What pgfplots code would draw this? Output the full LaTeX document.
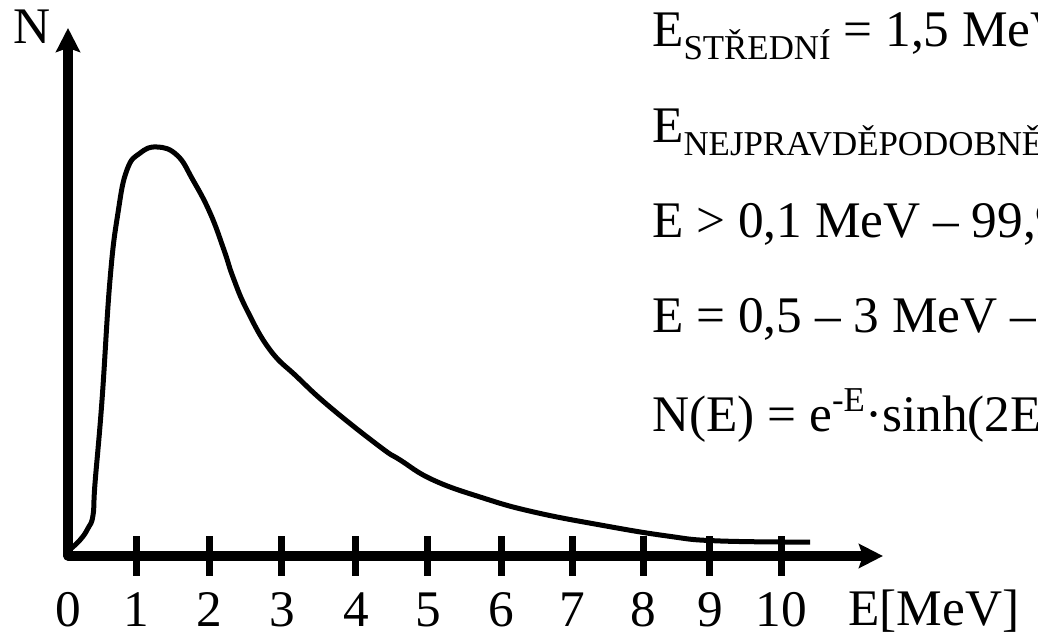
\documentclass[border=0pt]{standalone}
\usepackage{pgfplots}
\pgfplotsset{compat=1.18}
\usepackage{pgfplotstable}
\usepackage{fontspec}
\setmainfont{Liberation Serif}
\usetikzlibrary{arrows.meta}

% font sizes used throughout
\newcommand\bigfont{\fontsize{51.5}{60}\selectfont}
\newcommand\smallfont{\fontsize{35}{35}\selectfont}
\newcommand\lowtext[1]{\raisebox{-12.5bp}{\smallfont #1}}
\newcommand\hightext[1]{\raisebox{20bp}{\smallfont #1}}

% fission neutron spectrum, relative intensity vs. energy in MeV
\pgfplotstableread{
E       N
0.000   0.012
0.168   0.039
0.281   0.068
0.351   0.100
0.379   0.178
0.477   0.381
0.589   0.675
0.701   0.839
0.827   0.944
1.010   0.985
1.248   1.000
1.529   0.980
1.753   0.919
1.992   0.839
2.188   0.748
2.314   0.682
2.511   0.601
2.833   0.504
3.212   0.438
3.675   0.364
4.376   0.267
4.656   0.235
5.119   0.186
5.820   0.142
6.522   0.108
7.461   0.076
8.401   0.049
9.102   0.037
10.407  0.034
}\spectrum

\begin{document}
\begin{tikzpicture}
\useasboundingbox (0,0) rectangle (1038bp,633bp);
\clip (0,0) rectangle (1038bp,633bp);
\begin{axis}[
  at={(68bp,77bp)}, anchor=origin,
  x=71.3bp, y=409bp,
  xmin=0, xmax=11.43, ymin=0, ymax=1.291,
  axis lines=left,
  clip=false,
  axis line style={line width=9bp, line cap=round,
    -{Stealth[length=24bp, width=24bp, inset=4bp]}},
  xtick={0.954,1.978,3.001,4.039,5.049,6.073,7.069,8.065,9.004,10.0},
  xticklabels={1,2,3,4,5,6,7,8,9,10},
  extra x ticks={0},
  extra x tick labels={0},
  extra x tick style={tick style={draw=none}},
  ytick=\empty,
  tick align=center,
  major tick length=40bp,
  xtick style={line width=7bp, black},
  xticklabel style={font=\bigfont, anchor=base, inner sep=0pt, yshift=-51bp},
  xlabel={E[MeV]},
  xlabel style={font=\bigfont, at={(axis cs:10.94,0)}, anchor=base west, yshift=-69bp, inner sep=0pt},
  ylabel={N},
  ylabel style={font=\bigfont, at={(axis cs:-0.771,1.252)}, anchor=base west, rotate=-90, inner sep=0pt},
]
\addplot[black, line width=5bp, line join=round, smooth, tension=0.75] table[x=E, y=N] {\spectrum};
\end{axis}

\begin{scope}[every node/.style={font=\bigfont, anchor=base west, inner sep=0pt}]
\node at (652bp,586bp) {E\lowtext{STŘEDNÍ} = 1,5 MeV};
\node at (652bp,490bp) {E\lowtext{NEJPRAVDĚPODOBNĚJŠÍ} = 0,7 MeV};
\node at (652bp,395bp) {E > 0,1 MeV – 99,9 \%};
\node at (652bp,300bp) {E = 0,5 – 3 MeV – 75 \%};
\node at (652bp,201bp) {N(E) = e\hightext{-E}·sinh(2E)\hightext{1/2}};
\end{scope}
\end{tikzpicture}
\end{document}
